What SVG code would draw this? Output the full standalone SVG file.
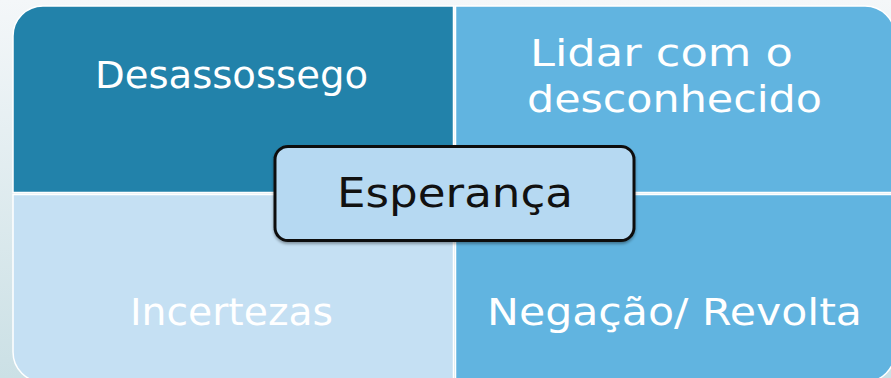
<svg xmlns="http://www.w3.org/2000/svg" width="891" height="378" viewBox="0 0 891 378">
  <defs>
    <linearGradient id="bg" x1="0" y1="0" x2="0" y2="1">
      <stop offset="0" stop-color="#f4f7f9"/>
      <stop offset="1" stop-color="#cbe0e5"/>
    </linearGradient>
    <filter id="sh" x="-10%" y="-10%" width="120%" height="130%">
      <feGaussianBlur in="SourceAlpha" stdDeviation="1.5"/>
      <feOffset dx="0" dy="1.5" result="b"/>
      <feComponentTransfer><feFuncA type="linear" slope="0.35"/></feComponentTransfer>
      <feMerge><feMergeNode/><feMergeNode in="SourceGraphic"/></feMerge>
    </filter>
  </defs>
  <style>
    .q { stroke: #ffffff; stroke-width: 1.5; }
    .t { font-family: "DejaVu Sans", "Liberation Sans", sans-serif; font-size: 38px; fill: #ffffff; }
    .c { font-family: "DejaVu Sans", "Liberation Sans", sans-serif; font-size: 41px; fill: #111111; }
  </style>
  <rect x="0" y="0" width="891" height="378" fill="url(#bg)"/>
  <g id="desassossego">
    <path class="q" d="M13,36 A30,30 0 0 1 43,6 L453.5,6 L453.5,192.5 L13,192.5 Z" fill="#2282aa"/>
    <text class="t" x="95" y="88" textLength="273" lengthAdjust="spacingAndGlyphs">Desassossego</text>
  </g>
  <g id="lidar">
    <path class="q" d="M455.5,6 L865,6 A30,30 0 0 1 895,36 L895,192.5 L455.5,192.5 Z" fill="#61b4e0"/>
    <text class="t" x="530" y="66" textLength="263" lengthAdjust="spacingAndGlyphs">Lidar com o</text>
    <text class="t" x="527" y="112" textLength="295" lengthAdjust="spacingAndGlyphs">desconhecido</text>
  </g>
  <g id="incertezas">
    <path class="q" d="M13,194.5 L453.5,194.5 L453.5,382 L43,382 A30,30 0 0 1 13,352 Z" fill="#c5e0f3"/>
    <text class="t" x="130" y="325" textLength="203" lengthAdjust="spacingAndGlyphs">Incertezas</text>
  </g>
  <g id="negacao">
    <path class="q" d="M455.5,194.5 L895,194.5 L895,352 A30,30 0 0 1 865,382 L455.5,382 Z" fill="#61b4e0"/>
    <text class="t" x="487" y="325" textLength="375" lengthAdjust="spacingAndGlyphs">Negação/ Revolta</text>
  </g>
  <g id="connectors"></g>
  <g id="esperanca">
    <rect x="275" y="146.5" width="359" height="94" rx="13" fill="#b6d9f2" stroke="#111111" stroke-width="3" filter="url(#sh)"/>
    <text class="c" x="337" y="207" textLength="236" lengthAdjust="spacingAndGlyphs">Esperança</text>
  </g>
</svg>
